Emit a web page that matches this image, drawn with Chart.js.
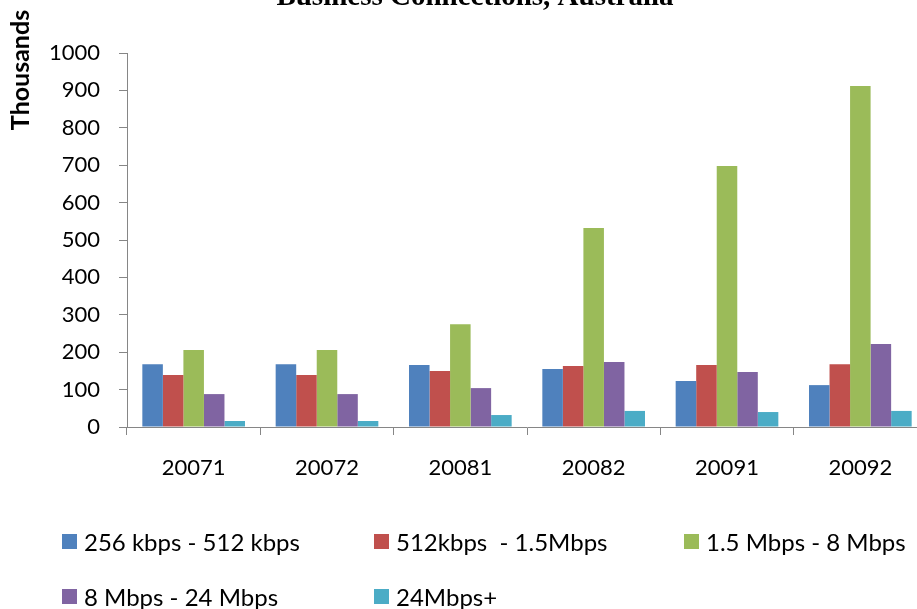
<!DOCTYPE html>
<html lang="en">
<head>
  <meta charset="UTF-8" />
  <title>Business Connections, Australia</title>
  <style>
    html, body { margin: 0; padding: 0; width: 917px; height: 609px; overflow: hidden; background: #fff; }
    #wrap { position: absolute; left: 0; top: -20px; width: 927px; height: 507px; }
    #legend { position: absolute; left: 0; top: 0; width: 917px; height: 609px; pointer-events: none; }
    .item { position: absolute; display: flex; align-items: center; font-family: Lato, sans-serif; font-size: 24px; color: #000; white-space: pre; }
    .box { width: 15px; height: 15px; margin-right: 7px; }
  </style>
</head>
<body>
  <div id="wrap"><canvas id="chart"></canvas></div>
  <div id="legend"></div>
  <script src="https://cdn.jsdelivr.net/npm/chart.js"></script>
  <script>
    const quarters = ['20071', '20072', '20081', '20082', '20091', '20092'];
    const seriesNames = ['256 kbps - 512 kbps', '512kbps  - 1.5Mbps', '1.5 Mbps - 8 Mbps', '8 Mbps - 24 Mbps', '24Mbps+'];
    const kbps256to512 = [168, 168, 166, 155, 123, 112];
    const kbps512to1500 = [139, 139, 150, 163, 166, 168];
    const mbps1500to8 = [206, 206, 275, 532, 698, 912];
    const mbps8to24 = [88, 88, 104, 174, 147, 222];
    const mbps24plus = [16, 16, 32, 43, 40, 43];
    const colors = ['#4F81BD', '#C0504D', '#9BBB59', '#8064A2', '#4BACC6'];
    const yTicks = [0, 100, 200, 300, 400, 500, 600, 700, 800, 900, 1000];

    const seriesValues = [kbps256to512, kbps512to1500, mbps1500to8, mbps8to24, mbps24plus];
    const axisGrey = '#868686';

    // rotated "Thousands" label sits above the axis, like the original
    const yLabel = {
      id: 'yLabel',
      afterDraw(chart) {
        const ctx = chart.ctx;
        ctx.save();
        ctx.translate(21, 90);
        ctx.rotate(-Math.PI / 2);
        ctx.font = 'bold 25px Lato';
        ctx.fillStyle = '#000';
        ctx.textAlign = 'center';
        ctx.textBaseline = 'middle';
        ctx.fillText('Thousands', 0, 0);
        ctx.restore();
      }
    };

    const chart = new Chart(document.getElementById('chart'), {
      type: 'bar',
      data: {
        labels: quarters,
        datasets: seriesNames.map((name, i) => ({
          label: name,
          data: seriesValues[i],
          backgroundColor: colors[i],
          borderWidth: 0,
          categoryPercentage: 0.77,
          barPercentage: 1
        }))
      },
      options: {
        responsive: true,
        maintainAspectRatio: false,
        animation: false,
        layout: { padding: { left: 23 } },
        plugins: {
          legend: { display: false },
          tooltip: { enabled: false },
          title: {
            display: true,
            text: 'Business Connections, Australia',
            color: '#000',
            font: { family: 'Liberation Serif', size: 29, weight: 'bold' },
            padding: { top: 0, bottom: 38.2 }
          }
        },
        scales: {
          x: {
            afterFit: s => { s.height = 60; },
            border: { color: axisGrey, width: 1 },
            grid: { offset: true, drawOnChartArea: false, tickLength: 8, color: axisGrey },
            ticks: { color: '#000', padding: 20, font: { family: 'Lato', size: 22 } }
          },
          y: {
            min: 0,
            max: 1000,
            afterFit: s => { s.width = 104; },
            afterBuildTicks: s => { s.ticks = yTicks.map(v => ({ value: v })); },
            border: { color: axisGrey, width: 1 },
            grid: { drawOnChartArea: false, tickLength: 8, color: axisGrey },
            ticks: { color: '#000', padding: 19, font: { family: 'Lato', size: 22 }, callback: v => String(v) }
          }
        }
      },
      plugins: [yLabel]
    });

    // legend laid out in a grid, built from the chart's datasets
    const legendPos = [[62, 541], [374, 541], [684, 541], [62, 596], [374, 596]];
    const legend = document.getElementById('legend');
    chart.data.datasets.forEach((ds, i) => {
      const item = document.createElement('div');
      item.className = 'item';
      item.style.left = legendPos[i][0] + 'px';
      item.style.top = (legendPos[i][1] - 14) + 'px';
      item.style.height = '28px';
      item.innerHTML = '<span class="box" style="background:' + ds.backgroundColor + '"></span><span>' + ds.label + '</span>';
      legend.appendChild(item);
    });
  </script>
</body>
</html>
